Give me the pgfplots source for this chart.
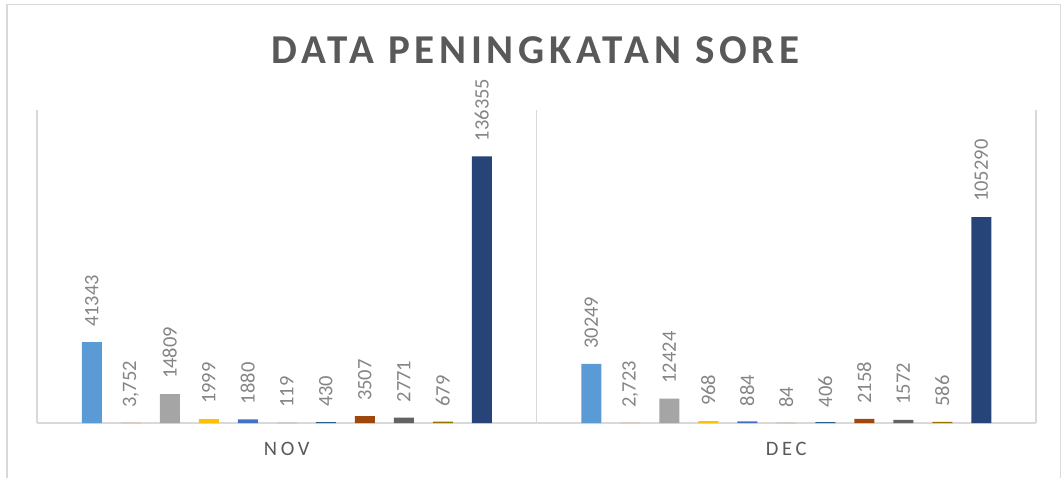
\documentclass[border=0pt]{standalone}
\usepackage{pgfplots}
\pgfplotsset{compat=1.18}
\usepackage{fontspec}
\setmainfont{Carlito}
\newfontfamily\titlefont{Carlito}[LetterSpace=11.5]
\newfontfamily\catfont{Carlito}[LetterSpace=18]
\definecolor{c1}{HTML}{5B9BD5}
\definecolor{c2}{HTML}{ED7D31}
\definecolor{c3}{HTML}{A5A5A5}
\definecolor{c4}{HTML}{FFC000}
\definecolor{c5}{HTML}{4472C4}
\definecolor{c6}{HTML}{70AD47}
\definecolor{c7}{HTML}{255E91}
\definecolor{c8}{HTML}{9E480E}
\definecolor{c9}{HTML}{636363}
\definecolor{c10}{HTML}{997300}
\definecolor{c11}{HTML}{264478}
\definecolor{gridgray}{HTML}{D9D9D9}
\definecolor{labgray}{HTML}{858585}
\definecolor{titlegray}{HTML}{595959}
\begin{document}
\begin{tikzpicture}[x=1pt,y=1pt]
\useasboundingbox (0,0) rectangle (1064,477);
\draw[gridgray, line width=1.3pt] (7,-5) -- (7,472.5) -- (1060.5,472.5) -- (1060.5,-5);
\node[anchor=base, text=titlegray, font=\titlefont\bfseries\fontsize{41}{46}\selectfont] at (535.5,413) {DATA PENINGKATAN SORE};
\begin{axis}[
  at={(37pt,54pt)}, anchor=south west,
  width=999pt, height=313pt, scale only axis,
  xmin=-0.5, xmax=1.5, ymin=0, ymax=160000,
  clip=false,
  axis x line*=bottom, axis y line=none,
  x axis line style={gridgray, line width=1.3pt, -},
  xtick={0,1}, xticklabels={NOV,DEC},
  major tick length=0pt,
  xticklabel style={font=\catfont\fontsize{20.5}{24}\selectfont, text=titlegray, yshift=-16pt},
  extra x ticks={-0.5,0.5,1.5}, extra x tick labels={},
  extra x tick style={grid=major, major grid style={gridgray, line width=1.3pt}},
  ytick=\empty,
  ybar=19pt, bar width=20pt,
  point meta=explicit symbolic,
  nodes near coords,
  nodes near coords style={rotate=90, anchor=west, inner xsep=15pt, inner ysep=0pt, text=labgray, font=\fontsize{20.5}{24}\selectfont},
]
\addplot[fill=c1, draw=none] coordinates {(0,41343) [41343] (1,30249) [30249]};
\addplot[fill=c2, draw=none] coordinates {(0,3.752) [{3,752}] (1,2.723) [{2,723}]};
\addplot[fill=c3, draw=none] coordinates {(0,14809) [14809] (1,12424) [12424]};
\addplot[fill=c4, draw=none] coordinates {(0,1999) [1999] (1,968) [968]};
\addplot[fill=c5, draw=none] coordinates {(0,1880) [1880] (1,884) [884]};
\addplot[fill=c6, draw=none] coordinates {(0,119) [119] (1,84) [84]};
\addplot[fill=c7, draw=none] coordinates {(0,430) [430] (1,406) [406]};
\addplot[fill=c8, draw=none] coordinates {(0,3507) [3507] (1,2158) [2158]};
\addplot[fill=c9, draw=none] coordinates {(0,2771) [2771] (1,1572) [1572]};
\addplot[fill=c10, draw=none] coordinates {(0,679) [679] (1,586) [586]};
\addplot[fill=c11, draw=none] coordinates {(0,136355) [136355] (1,105290) [105290]};
\end{axis}
\end{tikzpicture}
\end{document}
